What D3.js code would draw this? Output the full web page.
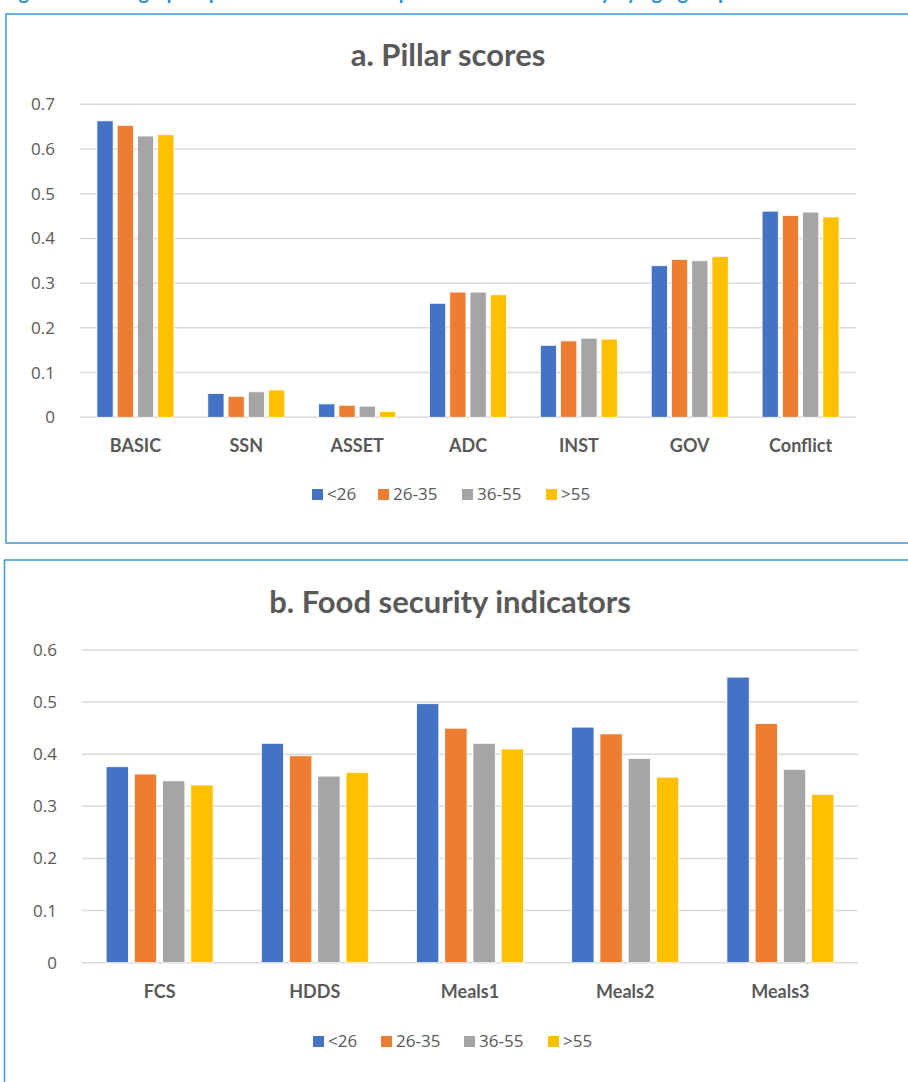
<!DOCTYPE html>
<html>
<head>
<meta charset="utf-8">
<script src="https://cdn.jsdelivr.net/npm/d3@7"></script>
<style>
  body { margin: 0; background: #fff; }
  svg { display: block; font-family: Lato, "Open Sans", sans-serif; }
  .tick text { fill: #595959; }
</style>
</head>
<body>
<div id="chart"></div>
<script>
// age groups (legend)
const ageGroups = ['<26', '26-35', '36-55', '>55'];
const colors = ['#4472C4', '#ED7D31', '#A5A5A5', '#FFC000'];

// panel a
const pillarCats = ['BASIC', 'SSN', 'ASSET', 'ADC', 'INST', 'GOV', 'Conflict'];
const pillarU26   = [0.663, 0.053, 0.030, 0.255, 0.161, 0.339, 0.461];
const pillar26_35 = [0.653, 0.047, 0.027, 0.280, 0.171, 0.353, 0.451];
const pillar36_55 = [0.629, 0.057, 0.025, 0.280, 0.177, 0.350, 0.459];
const pillarO55   = [0.632, 0.061, 0.013, 0.274, 0.175, 0.360, 0.448];
const pillarTicks = [0, 0.1, 0.2, 0.3, 0.4, 0.5, 0.6, 0.7];

// panel b
const foodCats = ['FCS', 'HDDS', 'Meals1', 'Meals2', 'Meals3'];
const foodU26   = [0.376, 0.421, 0.497, 0.452, 0.548];
const food26_35 = [0.362, 0.397, 0.450, 0.439, 0.459];
const food36_55 = [0.349, 0.358, 0.421, 0.392, 0.371];
const foodO55   = [0.341, 0.365, 0.410, 0.356, 0.323];
const foodTicks = [0, 0.1, 0.2, 0.3, 0.4, 0.5, 0.6];

const W = 908, H = 1082;
const svg = d3.select('#chart').append('svg').attr('width', W).attr('height', H);

// figure caption, cut off at the top edge as in the source
svg.append('text')
    .attr('x', 2).attr('y', -1)
    .style('font-size', '20px').style('font-weight', 'bold')
    .style('fill', '#2e8fd6')
    .text('Figure 4: Demographic patterns of resilience pillars and food security by age group');

function drawPanel(o){
    // frame
    svg.append('rect')
        .attr('x', o.box[0]).attr('y', o.box[1])
        .attr('width', o.box[2]).attr('height', o.box[3])
        .attr('fill', 'none').attr('stroke', '#3b9ad9').attr('stroke-width', 1.5);

    svg.append('text')
        .attr('x', o.titleX).attr('y', o.titleY)
        .attr('text-anchor', 'middle')
        .style('font-size', '31px').style('font-weight', 'bold').style('fill', '#595959')
        .text(o.title);

    let x = d3.scaleBand(o.cats, [o.left, o.right]);
    let y = d3.scaleLinear([0, d3.max(o.ticks)], [o.bottom, o.top]);

    // gridlines
    svg.append('g').selectAll('line').data(o.ticks).join('line')
        .attr('x1', o.left).attr('x2', o.right)
        .attr('y1', d=>y(d)).attr('y2', d=>y(d))
        .attr('stroke', '#d9d9d9').attr('stroke-width', 1.5);

    let axisY = svg.append('g')
        .attr('transform', `translate(${o.left - 22},0)`)
        .call(d3.axisLeft(y).tickValues(o.ticks).tickSize(0).tickFormat(d=>d===0 ? '0' : d3.format('.1f')(d)));
    axisY.select('.domain').remove();
    axisY.selectAll('text').style('font-size', '17px').style('font-family', '"Open Sans", sans-serif');

    // bars
    let rows = o.cats.map((c, i)=>o.series.map((s, j)=>({cat: c, k: j, v: s[i]})));
    let inner = d3.scaleBand(d3.range(o.series.length), [0, o.groupW]).paddingInner(o.gapRatio);
    svg.append('g').selectAll('g').data(rows).join('g')
        .attr('transform', (d, i)=>`translate(${x(o.cats[i]) + (x.bandwidth() - o.groupW)/2},0)`)
        .selectAll('rect').data(d=>d).join('rect')
        .attr('x', d=>inner(d.k))
        .attr('width', inner.bandwidth())
        .attr('y', d=>y(d.v))
        .attr('height', d=>y(0) - y(d.v))
        .attr('fill', d=>colors[d.k])
        .attr('stroke', '#fff').attr('stroke-width', 0.8);

    let axisX = svg.append('g')
        .attr('transform', `translate(0,${o.bottom})`)
        .call(d3.axisBottom(x).tickSize(0).tickPadding(o.labelPad));
    axisX.select('.domain').remove();
    axisX.selectAll('text')
        .style('font-family', 'Lato, sans-serif')
        .style('font-size', '18px').style('font-weight', 'bold');

    // legend
    let leg = svg.append('g').selectAll('g').data(ageGroups).join('g')
        .attr('transform', (d, i)=>`translate(${o.legendX[i]},${o.legendY})`);
    leg.append('rect').attr('x', 0).attr('y', -11).attr('width', 11).attr('height', 11)
        .attr('fill', (d, i)=>colors[i]);
    leg.append('text').attr('x', 15).attr('y', 0)
        .style('font-size', '17px').style('fill', '#595959')
        .style('font-family', '"Open Sans", sans-serif')
        .text(d=>d);
}

drawPanel({
    box: [6, 14, 920, 529],
    title: 'a. Pillar scores', titleX: 448, titleY: 66,
    cats: pillarCats, series: [pillarU26, pillar26_35, pillar36_55, pillarO55],
    ticks: pillarTicks,
    left: 80, right: 856, top: 104.3, bottom: 417.3,
    groupW: 77, gapRatio: 0.2, labelPad: 22,
    legendX: [312, 378, 462, 546], legendY: 500
});

drawPanel({
    box: [4.5, 560, 920, 540],
    title: 'b. Food security indicators', titleX: 450, titleY: 613,
    cats: foodCats, series: [foodU26, food26_35, food36_55, foodO55],
    ticks: foodTicks,
    left: 82, right: 858, top: 650, bottom: 962.7,
    groupW: 107, gapRatio: 0.21, labelPad: 23,
    legendX: [313, 381, 464, 548], legendY: 1047
});
</script>
</body>
</html>
